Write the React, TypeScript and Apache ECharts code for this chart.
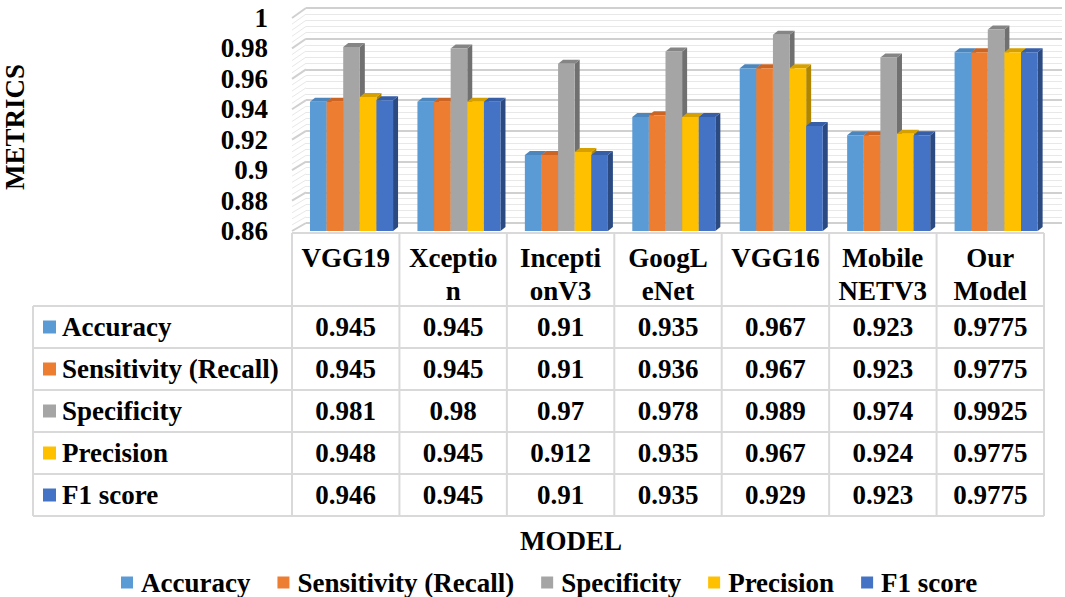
import React, { useEffect, useRef } from "react";
import * as echarts from "echarts";

// ---------- data ----------
const categories = ["VGG19", "Xceptio\nn", "Incepti\nonV3", "GoogL\neNet", "VGG16", "Mobile\nNETV3", "Our\nModel"];
const metricNames = ["Accuracy", "Sensitivity (Recall)", "Specificity", "Precision", "F1 score"];
const accuracy = [0.945, 0.945, 0.91, 0.935, 0.967, 0.923, 0.9775];
const sensitivity = [0.945, 0.945, 0.91, 0.936, 0.967, 0.923, 0.9775];
const specificity = [0.981, 0.98, 0.97, 0.978, 0.989, 0.974, 0.9925];
const precision = [0.948, 0.945, 0.912, 0.935, 0.967, 0.924, 0.9775];
const f1score = [0.946, 0.945, 0.91, 0.935, 0.929, 0.923, 0.9775];
const yTicks = [0.86, 0.88, 0.9, 0.92, 0.94, 0.96, 0.98, 1];

const seriesValues = [accuracy, sensitivity, specificity, precision, f1score];
const frontColors = ["#5B9BD5", "#ED7D31", "#A5A5A5", "#FFC000", "#4472C4"];
const topColors = ["#4C86BD", "#CC6423", "#858585", "#D6A100", "#365FA8"];
const sideColors = ["#3C6E9C", "#A9521C", "#707070", "#B08600", "#2B4A82"];

// ---------- layout ----------
const FONT = "Liberation Serif";
const FS = 27;
const GRID_LEFT = 292;
const GRID_RIGHT_X = 1044;
const FRONT_TOP = 18;
const FRONT_BOTTOM = 231;
const BACK_LEFT = 306;
const BACK_RIGHT = 1062;
const BACK_TOP = 8;
const BACK_BOTTOM = 223;
const TABLE_LEFT = 33;
const HEADER_TOP = 233;
const ROW_TOP = 306;
const ROW_H = 42;
const LINE_COLOR = "#d9d9d9";
const DX = 5;
const DY = 4;

const yMin = yTicks[0];
const yMax = yTicks[yTicks.length - 1];
const yStep = yTicks[1] - yTicks[0];

function tickLabel(v: number) {
  let best = yTicks[0];
  for (const t of yTicks) if (Math.abs(t - v) < Math.abs(best - v)) best = t;
  return String(best);
}

function buildTable() {
  const els: any[] = [];
  const colW = (GRID_RIGHT_X - GRID_LEFT) / categories.length;
  const nRows = metricNames.length;
  const tableBottom = ROW_TOP + ROW_H * nRows;
  const font = `bold ${FS}px ${FONT}`;
  els.push({ type: "line", shape: { x1: GRID_LEFT, y1: HEADER_TOP, x2: GRID_RIGHT_X, y2: HEADER_TOP }, style: { stroke: LINE_COLOR, lineWidth: 2 } });
  for (let k = 0; k <= nRows; k++) {
    const y = ROW_TOP + k * ROW_H;
    els.push({ type: "line", shape: { x1: TABLE_LEFT, y1: y, x2: GRID_RIGHT_X, y2: y }, style: { stroke: LINE_COLOR, lineWidth: 2 } });
  }
  els.push({ type: "line", shape: { x1: TABLE_LEFT, y1: ROW_TOP, x2: TABLE_LEFT, y2: tableBottom }, style: { stroke: LINE_COLOR, lineWidth: 2 } });
  for (let c = 0; c <= categories.length; c++) {
    const x = GRID_LEFT + c * colW;
    els.push({ type: "line", shape: { x1: x, y1: HEADER_TOP, x2: x, y2: tableBottom }, style: { stroke: LINE_COLOR, lineWidth: 2 } });
  }
  for (let r = 0; r < nRows; r++) {
    const cy = ROW_TOP + r * ROW_H + ROW_H / 2;
    els.push({ type: "rect", shape: { x: 43, y: cy - 6.5, width: 13, height: 13 }, style: { fill: frontColors[r] } });
    els.push({
      type: "text", x: 62, y: cy,
      style: { text: metricNames[r], fill: "#000", font, align: "left", verticalAlign: "middle" },
    });
    for (let c = 0; c < categories.length; c++) {
      els.push({
        type: "text", x: GRID_LEFT + (c + 0.5) * colW, y: cy,
        style: { text: String(seriesValues[r][c]), fill: "#000", font, align: "center", verticalAlign: "middle" },
      });
    }
  }
  els.push({
    type: "text", x: 571, y: 541,
    style: { text: "MODEL", fill: "#000", font, align: "center", verticalAlign: "middle" },
  });
  els.push({
    type: "text", x: 15, y: 127, rotation: Math.PI / 2,
    style: { text: "METRICS", fill: "#000", font, align: "center", verticalAlign: "middle" },
  });
  return els;
}

function wallRender(params: any, api: any) {
  const cs = params.coordSys;
  const children: any[] = [];
  const sub = 5;
  for (let i = 0; i < yTicks.length; i++) {
    for (let m = 0; m < (i === yTicks.length - 1 ? 1 : sub); m++) {
      const v = yTicks[i] + (m * yStep) / sub;
      const yF = api.coord([0, v])[1];
      const yB = BACK_BOTTOM - ((v - yMin) / (yMax - yMin)) * (BACK_BOTTOM - BACK_TOP);
      const major = m === 0;
      children.push({
        type: "line",
        shape: { x1: cs.x, y1: yF, x2: BACK_LEFT, y2: yB },
        style: { stroke: major ? "#d0d0d0" : "#e8e8e8", lineWidth: major ? 2 : 1 },
      });
    }
  }
  return { type: "group", children };
}

function makeBarRender(si: number) {
  return function (params: any, api: any) {
    const cat = api.value(0);
    const val = api.value(1);
    const base = api.coord([cat, yMin]);
    const top = api.coord([cat, val]);
    const band = api.size([1, 0])[0];
    const bw = band * 0.1546;
    const left = base[0] - band / 2 + band * 0.1676 + si * bw;
    const ty = top[1];
    const by = base[1];
    return {
      type: "group",
      children: [
        {
          type: "polygon",
          shape: { points: [[left + bw, ty], [left + bw + DX, ty - DY], [left + bw + DX, by - DY], [left + bw, by]] },
          style: { fill: sideColors[si] },
        },
        {
          type: "polygon",
          shape: { points: [[left, ty], [left + DX, ty - DY], [left + bw + DX, ty - DY], [left + bw, ty]] },
          style: { fill: topColors[si] },
        },
        {
          type: "rect",
          shape: { x: left, y: ty, width: bw, height: by - ty },
          style: { fill: frontColors[si] },
        },
      ],
    };
  };
}

export default function App() {
  const ref = useRef<HTMLDivElement>(null);
  useEffect(() => {
    if (!ref.current) return;
    const chart = echarts.init(ref.current, undefined, { renderer: "svg" });
    const barSeries = metricNames.map((name, si) => ({
      name,
      type: "custom",
      xAxisIndex: 0,
      yAxisIndex: 0,
      z: 3,
      itemStyle: { color: frontColors[si] },
      renderItem: makeBarRender(si),
      encode: { x: 0, y: 1 },
      data: seriesValues[si].map((v, i) => [i, v]),
    }));
    chart.setOption({
      animation: false,
      backgroundColor: "#ffffff",
      textStyle: { fontFamily: FONT },
      grid: [
        { left: GRID_LEFT, right: 1065 - GRID_RIGHT_X, top: FRONT_TOP, bottom: 597 - FRONT_BOTTOM },
        { left: BACK_LEFT, right: 1065 - BACK_RIGHT, top: BACK_TOP, bottom: 597 - BACK_BOTTOM, z: 0 },
      ],
      xAxis: [
        {
          type: "category",
          gridIndex: 0,
          data: categories,
          axisLine: { show: false },
          axisTick: { show: false },
          axisLabel: {
            interval: 0, color: "#000", fontSize: FS, fontWeight: "bold", fontFamily: FONT,
            lineHeight: 33, margin: 10,
          },
        },
        { type: "value", gridIndex: 1, show: false, min: 0, max: 1 },
      ],
      yAxis: [
        {
          type: "value",
          gridIndex: 0,
          min: yMin,
          max: yMax,
          interval: yStep,
          axisLine: { show: false },
          axisTick: { show: false },
          splitLine: { show: false },
          axisLabel: {
            color: "#000", fontSize: FS, fontWeight: "bold", fontFamily: FONT, margin: 24,
            formatter: (v: number) => tickLabel(v),
          },
        },
        {
          type: "value",
          gridIndex: 1,
          min: yMin,
          max: yMax,
          interval: yStep,
          axisLine: { show: false },
          axisTick: { show: false },
          axisLabel: { show: false },
          splitLine: { show: true, lineStyle: { color: "#d0d0d0", width: 2 } },
          minorTick: { show: false, splitNumber: 5 },
          minorSplitLine: { show: true, lineStyle: { color: "#e8e8e8", width: 1 } },
        },
      ],
      legend: {
        data: metricNames,
        selectedMode: false,
        top: 564,
        left: 116,
        icon: "rect",
        itemWidth: 12,
        itemHeight: 12,
        itemGap: 27,
        textStyle: { color: "#000", fontSize: FS, fontWeight: "bold", fontFamily: FONT, padding: [0, 0, 0, 3] },
      },
      graphic: buildTable(),
      series: [
        {
          name: "wall",
          type: "custom",
          xAxisIndex: 0,
          yAxisIndex: 0,
          z: 1,
          silent: true,
          renderItem: wallRender,
          data: [[0, yMin]],
        },
        ...barSeries,
      ],
    });
    return () => chart.dispose();
  }, []);
  return (
    <div
      ref={ref}
      style={{ position: "absolute", left: 0, top: 0, width: 1065, height: 597, background: "#fff" }}
    />
  );
}
